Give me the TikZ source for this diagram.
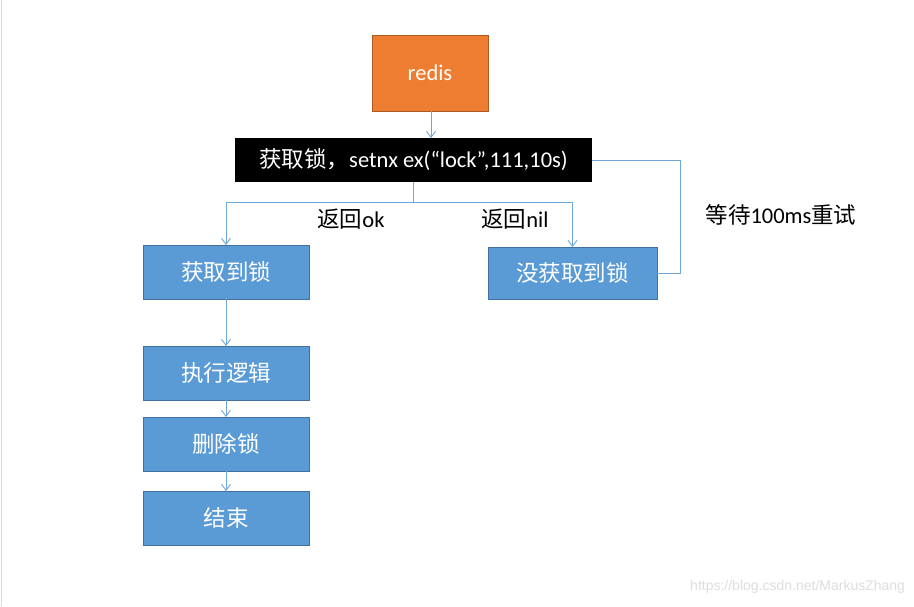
\documentclass[tikz,border=0pt]{standalone}
\usepackage{fontspec}
\setmainfont{Carlito}
\newfontfamily\cjk{Noto Sans CJK SC}
\newfontfamily\wmfont{Liberation Sans}
\usetikzlibrary{arrows.meta,calc}
\definecolor{boxblue}{HTML}{5B9BD5}
\definecolor{boxblueedge}{HTML}{41719C}
\definecolor{orangefill}{HTML}{ED7D31}
\definecolor{orangeedge}{HTML}{AE5A21}
\definecolor{linkblue}{HTML}{6FA6DA}
\begin{document}
\begin{tikzpicture}[x=1pt,y=-1pt,
  every node/.style={inner sep=0pt, outer sep=0pt, font=\fontsize{22.5}{24}\selectfont},
  bluebox/.style={draw=boxblueedge, line width=1pt, fill=boxblue, text=white,
    minimum width=166pt, minimum height=54pt},
  link/.style={draw=linkblue, line width=0.9pt},
  arr/.style={link, -{Straight Barb[length=6pt,width=9pt,line width=0.9pt]}},
  lbl/.style={text=black}]
\useasboundingbox (0,0) rectangle (914,606);
\fill[white] (0,0) rectangle (914,606);
\draw[gray!30, line width=1pt] (1,0) -- (1,606);

\node[draw=orangeedge, line width=1pt, fill=orangefill, text=white,
  minimum width=116pt, minimum height=76pt] (redis) at (430,73) {redis};
\node[fill=black, text=white, minimum width=357pt, minimum height=44pt]
  (lock) at (413.5,160) {{\cjk 获取锁，}setnx ex(“lock”,111,10s)};

\node[bluebox] (got) at (226,272) {\cjk 获取到锁};
\node[bluebox, minimum width=169pt, minimum height=52pt] (nolock) at (572.5,273) {\cjk 没获取到锁};
\node[bluebox] (exec) at (226,373) {\cjk 执行逻辑};
\node[bluebox] (del) at (226,444) {\cjk 删除锁};
\node[bluebox] (fin) at (226,518) {\cjk 结束};

\node[lbl] (lok) at (351,219) {{\cjk 返回}ok};
\node[lbl] (lnil) at (515,219) {{\cjk 返回}nil};
\node[lbl] (lwait) at (781,215) {{\cjk 等待}100ms{\cjk 重试}};

\coordinate (split) at (413.5,202);
\coordinate (ret) at (680,160);

\draw[arr] (redis.south -| 431,0) -- (lock.north -| 431,0);
\draw[link] (lock.south) -- (split);
\draw[arr] (split) -| (got.north);
\draw[arr] (split) -| (nolock.north);
\draw[link] (nolock.east) -| (ret) -- (lock.east);
\draw[arr] (got.south) -- (exec.north);
\draw[arr] (exec.south) -- (del.north);
\draw[arr] (del.south) -- (fin.north);

\node[text=black!13, font=\wmfont\fontsize{14}{16}\selectfont, anchor=east] (wm) at (905,587) {https://blog.csdn.net/MarkusZhang};
\end{tikzpicture}
\end{document}
